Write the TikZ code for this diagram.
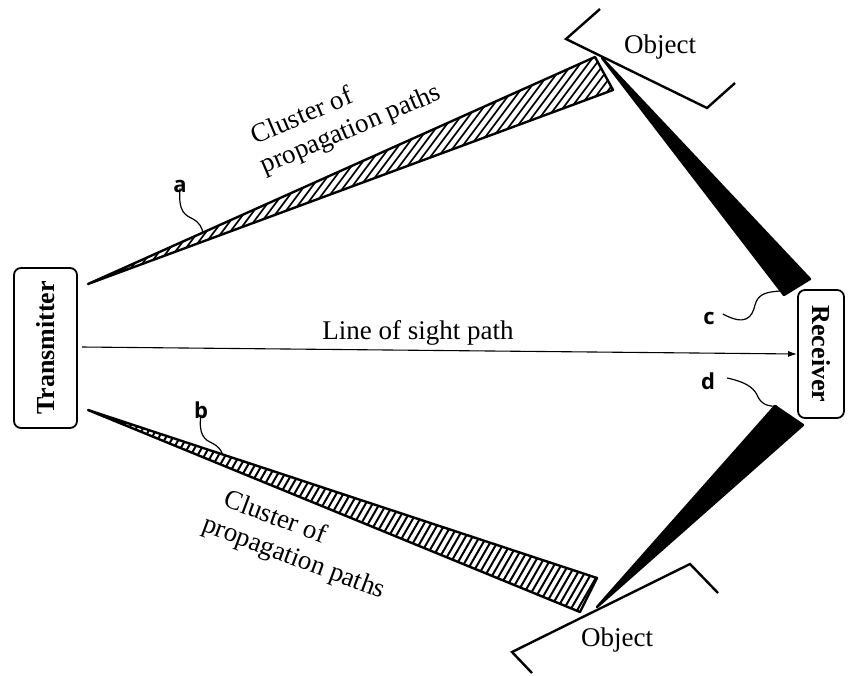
\documentclass[tikz,border=0pt]{standalone}
\usepackage{fontspec}
\setmainfont{Liberation Serif}
\newfontfamily\labfont{Open Sans}
\usetikzlibrary{arrows.meta}
\begin{document}
\begin{tikzpicture}[x=1pt,y=-1pt,
  boxnode/.style={draw,line width=1.8pt,rounded corners=7pt,inner sep=0pt,font=\fontsize{26}{28}\selectfont\bfseries},
  txt/.style={font=\fontsize{27}{29}\selectfont,inner sep=0pt},
  lab/.style={font=\labfont\fontsize{22}{24}\selectfont\bfseries,inner sep=0pt},
  wedge/.style={line width=2.4pt,line join=round},
  objline/.style={line width=2.4pt,line join=miter},
  hatch/.style={line width=1.7pt},
  wig/.style={line width=1.2pt}]
\useasboundingbox (0,0) rectangle (848,675);
\fill[white] (0,0) rectangle (848,675);

% boxes
\node[boxnode,rotate=90,minimum width=160pt,minimum height=63pt] (tx) at (45.5,348) {Transmitter};
\node[boxnode,rotate=-90,minimum width=128pt,minimum height=46pt] (rx) at (821,354) {Receiver};

% coordinates
\coordinate (ua) at (88,284);
\coordinate (ub) at (595,57);
\coordinate (uc) at (613,90);
\coordinate (la) at (88,410);
\coordinate (lb) at (597,578);
\coordinate (lc) at (580,612);
\coordinate (ca) at (602,58);
\coordinate (cb) at (810,279);
\coordinate (cc) at (784,295);
\coordinate (da) at (597,607);
\coordinate (db) at (775,406);
\coordinate (dc) at (803,425);

% upper hatched wedge
\begin{scope}
  \clip (ua) -- (ub) -- (uc) -- cycle;
  \foreach \x in {100,108,...,860} \draw[hatch] (\x,0) -- (\x-300,400);
\end{scope}
\draw[wedge] (ua) -- (ub) -- (uc) -- cycle;

% lower hatched wedge
\begin{scope}
  \clip (la) -- (lb) -- (lc) -- cycle;
  \foreach \x in {80,87,...,760} \draw[hatch,line width=2pt] (\x,380) -- (\x-150,640);
\end{scope}
\draw[wedge] (la) -- (lb) -- (lc) -- cycle;

% black wedges
\fill[draw,wedge] (ca) -- (cb) -- (cc) -- cycle;
\fill[draw,wedge] (da) -- (db) -- (dc) -- cycle;

% objects
\coordinate (o1) at (600,9);
\coordinate (o2) at (566,39);
\coordinate (o3) at (707,108);
\coordinate (o4) at (735,83);
\draw[objline] (o1) -- (o2) -- (o3) -- (o4);
\coordinate (p1) at (532,673);
\coordinate (p2) at (512,652);
\coordinate (p3) at (690,564);
\coordinate (p4) at (718,593);
\draw[objline] (p1) -- (p2) -- (p3) -- (p4);
\node[txt] (obj1) at (660,47) {Object};
\node[txt] (obj2) at (617,640) {Object};

% line of sight
\coordinate (los) at (82,347);
\draw[line width=1.1pt,-{Latex[length=9pt,width=6pt]}] (los) -- (rx.south);
\node[txt] (lostxt) at (418,333) {Line of sight path};

% cluster labels
\node[txt,rotate=23,align=left] (cl1) at (345,116) {\hspace*{3pt}Cluster of\\[2pt]propagation paths};
\node[txt,rotate=-20.5,align=left] (cl2) at (299,544) {\hspace*{11pt}Cluster of\\[2pt]propagation paths};

% letter labels
\node[lab] (a) at (180,186) {a};
\node[lab] (b) at (201,410) {b};
\node[lab] (c) at (709,318) {c};
\node[lab] (d) at (708,381) {d};

\coordinate (aw) at (203,233);
\coordinate (bw) at (222,453);
\coordinate (cw) at (780,291);
\coordinate (dw) at (777,406);
\draw[wig] ([yshift=4pt]a.south) .. controls (178,212) and (185,215) .. (193,219) .. controls (200,223) and (202,228) .. (aw);
\draw[wig] ([yshift=4pt]b.south) .. controls (198,435) and (205,440) .. (212,443) .. controls (218,446) and (221,450) .. (bw);
\draw[wig] ([xshift=8pt,yshift=4pt]c.east) .. controls (745,326) and (752,318) .. (755,305) .. controls (758,293) and (768,292) .. (cw);
\draw[wig] ([xshift=12pt,yshift=3pt]d.east) .. controls (750,383) and (755,390) .. (758,397) .. controls (762,405) and (770,407) .. (dw);
\end{tikzpicture}
\end{document}
